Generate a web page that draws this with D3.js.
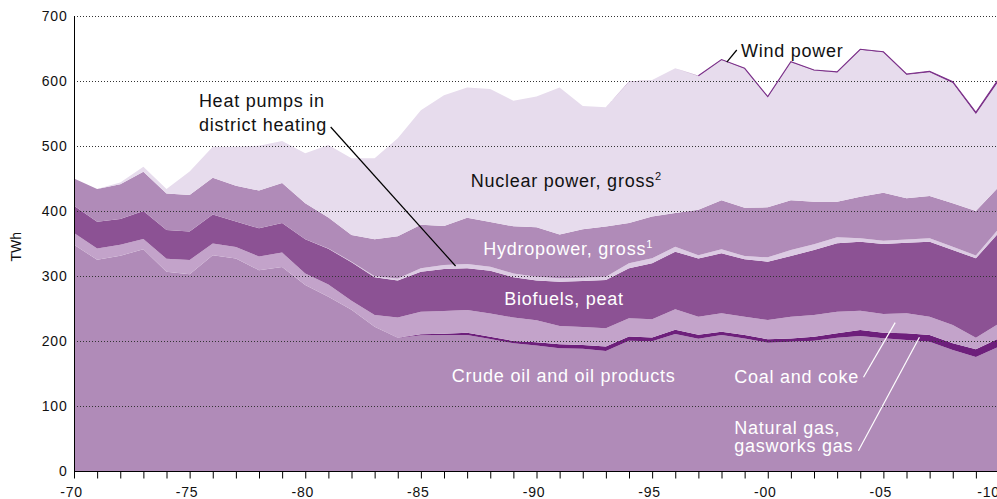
<!DOCTYPE html>
<html>
<head>
<meta charset="utf-8">
<script src="https://cdn.jsdelivr.net/npm/d3@7"></script>
<style>
  body { margin: 0; background: #fff; }
  svg { display: block; }
  text { font-family: "Liberation Sans", Arial, Helvetica, sans-serif; }
</style>
</head>
<body>
<div id="chart"></div>
<script>
// years on the x axis
const years = [1970, 1971, 1972, 1973, 1974, 1975, 1976, 1977, 1978, 1979,
  1980, 1981, 1982, 1983, 1984, 1985, 1986, 1987, 1988, 1989,
  1990, 1991, 1992, 1993, 1994, 1995, 1996, 1997, 1998, 1999,
  2000, 2001, 2002, 2003, 2004, 2005, 2006, 2007, 2008, 2009, 2010]

// TWh (bottom layer first)
const oil = [348, 325, 331, 341, 306.7, 302.6, 332, 327, 309, 314,
  286, 268, 248, 222, 204.5, 209, 209.2, 209.2, 203, 196.4,
  193, 189, 188, 184.5, 200.5, 199.5, 210.8, 203.5, 209.2, 204,
  197.4, 199, 200.5, 205.1, 207.7, 204.1, 201.5, 199, 186.2, 175.5, 191.3]
const gas = [0, 0, 0, 0, 0, 0, 0, 0, 0, 0,
  0, 0, 0, 0, 0.5, 1.5, 2, 3.6, 3.7, 3.6,
  5, 6, 6, 7, 6.5, 6, 6.6, 6, 5.2, 5.2,
  5.2, 5, 6.2, 6.7, 9.2, 8.7, 10.3, 10.2, 10.2, 12, 12.8]
const coal = [18, 17.5, 17, 16, 19.8, 22, 18, 17.5, 21, 22,
  18, 19, 14, 18, 31, 34.5, 34.8, 34.9, 35.8, 36,
  34, 28, 27.5, 28, 28, 27.8, 31.3, 27.9, 28.2, 28.2,
  29.7, 33.4, 33.3, 33.2, 29.8, 28.7, 30.8, 28.2, 28.2, 17.5, 22.9]
const biofuels = [42, 41, 39.7, 43, 44.3, 44, 44.5, 39.5, 43.3, 45.5,
  52.5, 55, 59, 58, 57, 61.6, 64.8, 64.1, 65.7, 62,
  61, 68.3, 70.8, 74.3, 76.8, 86.2, 88.7, 89.6, 92.3, 88.2,
  89.7, 93.4, 100, 105.3, 106.1, 107.7, 108.7, 115.4, 115.4, 122.2, 139.7]
const heatPumps = [0, 0, 0, 0, 0, 0, 0, 0, 0, 0,
  0, 0.5, 1, 1.5, 3, 5.2, 6.1, 6.7, 6.2, 6,
  6, 5.1, 5.1, 5.1, 7.7, 7.7, 7.6, 5, 6.1, 5,
  6.7, 9.2, 8.7, 9.2, 5.2, 5, 5, 5.2, 5.1, 4.5, 6.6]
const hydro = [42, 50.2, 53.3, 60.5, 56.2, 56.1, 56.5, 55, 58.2, 61.5,
  55.3, 47.5, 41, 57, 65, 67.2, 60.1, 71, 68.6, 72.5,
  76, 67.6, 74.6, 77.1, 62, 64.3, 52, 70, 75.5, 74.4,
  76.9, 76.5, 65.7, 54.9, 64, 74, 63.2, 65.1, 66.7, 68.3, 64.1]
const nuclear = [0, 0, 3, 7.5, 7, 35.9, 48, 60, 69, 64.7,
  76.9, 111.5, 118, 124.5, 151, 176, 201, 200.5, 204.7, 193.2,
  201, 226, 189.5, 183.5, 217.5, 210, 222.5, 205.8, 216.2, 214.1,
  169.9, 212.7, 202, 198.9, 225.9, 215.9, 190.3, 190.5, 185.2, 149.3, 163.1]
const wind = [0, 0, 0, 0, 0, 0, 0, 0, 0, 0,
  0, 0, 0, 0, 0, 0, 0, 0, 0, 0,
  0, 0.1, 0.1, 0.1, 0.1, 0.1, 0.1, 0.2, 0.3, 0.4,
  0.5, 0.5, 0.6, 0.7, 0.9, 0.9, 1.0, 1.4, 2.0, 2.5, 3.5]

const yTicks = [0, 100, 200, 300, 400, 500, 600, 700]
const xLabelYears = [1970, 1975, 1980, 1985, 1990, 1995, 2000, 2005, 2010]

const keys = ["oil", "gas", "coal", "biofuels", "heatPumps", "hydro", "nuclear", "wind"]
const fills = {
  oil: "#b08bb8",
  gas: "#6d1f7b",
  coal: "#c3a3ca",
  biofuels: "#8c5294",
  heatPumps: "#dccbe3",
  hydro: "#b08bb8",
  nuclear: "#e7dced",
  wind: "#7b3089"
}

const width = 997
const height = 499

const x = d3.scaleLinear().domain([1970, 2010]).range([74, 999])
const y = d3.scaleLinear().domain([0, 700]).range([471, 16])

const rows = years.map((yr, i) => ({
  year: yr, oil: oil[i], gas: gas[i], coal: coal[i], biofuels: biofuels[i],
  heatPumps: heatPumps[i], hydro: hydro[i], nuclear: nuclear[i], wind: wind[i]
}))
const series = d3.stack().keys(keys)(rows)

const svg = d3.select("#chart").append("svg")
  .attr("width", width)
  .attr("height", height)

svg.append("clipPath").attr("id", "plot")
  .append("rect").attr("x", 74).attr("y", 0).attr("width", width - 74).attr("height", 471)

const area = d3.area()
  .x(d => x(d.data.year))
  .y0(d => y(d[0]))
  .y1(d => y(d[1]))

svg.append("g")
  .attr("clip-path", "url(#plot)")
  .selectAll("path")
  .data(series)
  .join("path")
  .attr("fill", d => fills[d.key])
  .attr("d", area)

// wind is too thin to see as an area, trace its upper edge
const windSeries = series.find(s => s.key === "wind")
svg.append("path")
  .attr("clip-path", "url(#plot)")
  .attr("fill", "none")
  .attr("stroke", fills.wind)
  .attr("stroke-width", 1.1)
  .attr("d", d3.line()
    .defined(d => d.data.wind >= 0.2)
    .x(d => x(d.data.year))
    .y(d => y(d[1]))(windSeries))

// dotted gridlines on top of the areas
svg.append("g")
  .selectAll("line")
  .data(yTicks.filter(t => t > 0))
  .join("line")
  .attr("x1", 74)
  .attr("x2", width)
  .attr("y1", d => y(d) + 0.5)
  .attr("y2", d => y(d) + 0.5)
  .attr("stroke", "#333")
  .attr("stroke-width", 1)
  .attr("stroke-dasharray", "1,2")

// y axis
const yAxis = svg.append("g")
  .attr("transform", "translate(74.5,0)")
  .call(d3.axisLeft(y).tickValues(yTicks).tickSize(0).tickPadding(7))
yAxis.select(".domain").attr("stroke", "#000").attr("d", `M0,${y(700)}V${y(0)}`)
yAxis.selectAll("text")
  .attr("font-size", 14)
  .attr("letter-spacing", "0.8px")
  .attr("fill", "#111")
  .attr("font-family", "Liberation Sans, Arial, sans-serif")

// x axis, a tick every year
const xAxis = svg.append("g")
  .attr("transform", "translate(0,471.5)")
  .call(d3.axisBottom(x)
    .tickValues(years)
    .tickSize(7)
    .tickPadding(9)
    .tickFormat(d => xLabelYears.includes(d) ? "-" + String(d).slice(2) : ""))
xAxis.select(".domain").attr("stroke", "#000").attr("d", `M74,0H${width}`)
xAxis.selectAll(".tick line").attr("stroke", "#000")
xAxis.selectAll("text")
  .attr("font-size", 14)
  .attr("letter-spacing", "0.8px")
  .attr("fill", "#111")
  .attr("dx", d => d === 2010 ? -11 : -3)
  .attr("font-family", "Liberation Sans, Arial, sans-serif")

svg.append("text")
  .attr("transform", `translate(21,${y(345)}) rotate(-90)`)
  .attr("text-anchor", "middle")
  .attr("font-size", 14)
  .attr("fill", "#111")
  .text("TWh")

// labels: [text, year, value, colour, superscript]
const labels = [
  ["Heat pumps in", 1975.4, 560, "#111"],
  ["district heating", 1975.4, 523, "#111"],
  ["Nuclear power, gross", 1987.16, 437, "#111", "2"],
  ["Wind power", 1998.84, 636.5, "#111"],
  ["Hydropower, gross", 1987.7, 332.3, "#fff", "1"],
  ["Biofuels, peat", 1988.6, 255.4, "#fff"],
  ["Crude oil and oil products", 1986.34, 137.4, "#fff"],
  ["Coal and coke", 1998.55, 135.8, "#fff"],
  ["Natural gas,", 1998.55, 56.9, "#fff"],
  ["gasworks gas", 1998.55, 28.8, "#fff"]
]

const lab = svg.append("g")
  .selectAll("text")
  .data(labels)
  .join("text")
  .attr("x", d => x(d[1]))
  .attr("y", d => y(d[2]))
  .attr("font-size", 18)
  .attr("letter-spacing", "0.75px")
  .attr("fill", d => d[3])
  .text(d => d[0])

lab.filter(d => d[4])
  .append("tspan")
  .attr("font-size", 11)
  .attr("dy", -7)
  .text(d => d[4])

// leader lines: [year1, value1, year2, value2, colour]
const leaders = [
  [1981.1, 529.2, 1986.5, 315.4, "#000"],
  [1998.23, 629.2, 1998.66, 647.7, "#000"],
  [2004.14, 144.2, 2005.51, 228.2, "#fff"],
  [2003.92, 31.2, 2006.56, 205.7, "#fff"]
]

svg.append("g")
  .selectAll("line")
  .data(leaders)
  .join("line")
  .attr("x1", d => x(d[0]))
  .attr("y1", d => y(d[1]))
  .attr("x2", d => x(d[2]))
  .attr("y2", d => y(d[3]))
  .attr("stroke", d => d[4])
  .attr("stroke-width", 1.2)
</script>
</body>
</html>
